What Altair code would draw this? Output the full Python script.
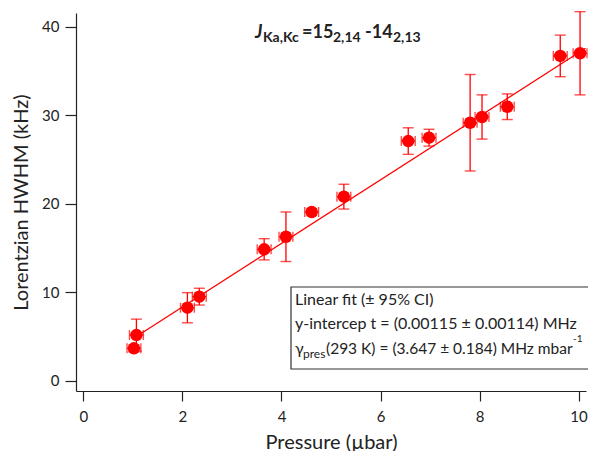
import altair as alt
import pandas as pd

# ---- data ----
pressure = [1.02, 1.07, 2.10, 2.34, 3.65, 4.09, 4.61, 5.26, 6.56, 6.98, 7.81, 8.05, 8.56, 9.63, 10.03]
hwhm = [3.66, 5.16, 8.25, 9.50, 14.85, 16.27, 19.06, 20.80, 27.08, 27.46, 29.15, 29.80, 30.96, 36.70, 37.00]
hwhm_err = [0.4, 1.8, 1.7, 0.95, 1.2, 2.8, 0.4, 1.4, 1.5, 0.95, 5.45, 2.5, 1.45, 2.35, 4.7]
pressure_err = [0.14] * 15

fit_x = [1.07, 10.14]
fit_y = [5.0, 37.56]

x_ticks = [0, 2, 4, 6, 8, 10]
y_ticks = [0, 10, 20, 30, 40]

RED = "#ff0000"
FONT = "Lato"
INK = "#222222"

df = pd.DataFrame({"p": pressure, "h": hwhm, "he": hwhm_err, "pe": pressure_err})
df["h_lo"] = df["h"] - df["he"]
df["h_hi"] = df["h"] + df["he"]
df["p_lo"] = df["p"] - df["pe"]
df["p_hi"] = df["p"] + df["pe"]
fit_df = pd.DataFrame({"p": fit_x, "h": fit_y})

xs = alt.Scale(domain=[-0.15, 10.15], nice=False, zero=False)
ys = alt.Scale(domain=[-1.16, 41.55], nice=False, zero=False)

xax = alt.Axis(values=x_ticks, title="Pressure (µbar)", grid=False, tickSize=10,
               labelPadding=8, titlePadding=8, labelFontSize=15, titleFontSize=20,
               labelFont=FONT, titleFont=FONT, titleFontWeight="normal",
               domainColor=INK, tickColor=INK, labelColor=INK, titleColor=INK)
yax = alt.Axis(values=y_ticks, title="Lorentzian HWHM (kHz)", grid=False, tickSize=11,
               labelPadding=6, titlePadding=10, labelFontSize=15, titleFontSize=20,
               labelFont=FONT, titleFont=FONT, titleFontWeight="normal",
               domainColor=INK, tickColor=INK, labelColor=INK, titleColor=INK)

base = alt.Chart(df)

fit = alt.Chart(fit_df).mark_line(color=RED, strokeWidth=1.3).encode(
    x=alt.X("p:Q", scale=xs, axis=xax), y=alt.Y("h:Q", scale=ys, axis=yax))

vbar = base.mark_rule(color=RED, strokeWidth=1.3).encode(
    x=alt.X("p:Q", scale=xs), y=alt.Y("h_lo:Q", scale=ys), y2="h_hi:Q")
vcap_lo = base.mark_tick(color=RED, orient="horizontal", size=11, thickness=1.4).encode(
    x=alt.X("p:Q", scale=xs), y=alt.Y("h_lo:Q", scale=ys))
vcap_hi = base.mark_tick(color=RED, orient="horizontal", size=11, thickness=1.4).encode(
    x=alt.X("p:Q", scale=xs), y=alt.Y("h_hi:Q", scale=ys))

hbar = base.mark_rule(color=RED, strokeWidth=1.3).encode(
    x=alt.X("p_lo:Q", scale=xs), x2="p_hi:Q", y=alt.Y("h:Q", scale=ys))
hcap_lo = base.mark_tick(color=RED, orient="vertical", size=10, thickness=1.4).encode(
    x=alt.X("p_lo:Q", scale=xs), y=alt.Y("h:Q", scale=ys))
hcap_hi = base.mark_tick(color=RED, orient="vertical", size=10, thickness=1.4).encode(
    x=alt.X("p_hi:Q", scale=xs), y=alt.Y("h:Q", scale=ys))

pts = base.mark_circle(color=RED, size=155, opacity=1).encode(
    x=alt.X("p:Q", scale=xs), y=alt.Y("h:Q", scale=ys))

one = alt.Data(values=[{"a": 1}])


def txt(s, x, y, size, weight="normal", style="normal", align="left"):
    return alt.Chart(one).mark_text(text=s, font=FONT, fontSize=size, fontWeight=weight,
                                    fontStyle=style, align=align, baseline="alphabetic",
                                    color=INK).encode(x=alt.value(x), y=alt.value(y))


# plot origin is at page (76, 13)
title_parts = [
    txt("J", 179, 25, 18, "bold", "italic"),
    txt("Ka,Kc", 187, 29, 14, "bold"),
    txt("=15", 226, 25, 18, "bold"),
    txt("2,14", 257, 29, 14, "bold"),
    txt("-14", 289, 25, 18, "bold"),
    txt("2,13", 317, 29, 14, "bold"),
]

box = alt.Chart(one).mark_rect(fill="white", stroke="#333333", strokeWidth=1.2).encode(
    x=alt.value(215), x2=alt.value(560), y=alt.value(274), y2=alt.value(356))

box_text = [
    txt("Linear fit (± 95% CI)", 219, 292, 16),
    txt("y-intercep t = (0.00115 ± 0.00114) MHz", 219, 316, 16),
    txt("γ", 219, 341, 16),
    txt("pres", 227, 345, 12),
    txt("(293 K) = (3.647 ± 0.184) MHz mbar", 250, 341, 15.5),
    txt("-1", 497, 329, 10),
]

chart = alt.layer(fit, vbar, vcap_lo, vcap_hi, hbar, hcap_lo, hcap_hi, pts,
                  *title_parts, box, *box_text).properties(
    width=510, height=378,
    autosize=alt.AutoSizeParams(type="none"),
    padding={"left": 68, "top": 5, "right": 2, "bottom": 60},
).configure_view(stroke=None).configure_axis(domainWidth=1.2, tickWidth=1.2)

chart.save("out.html", embed_options={"renderer": "svg", "actions": False})
